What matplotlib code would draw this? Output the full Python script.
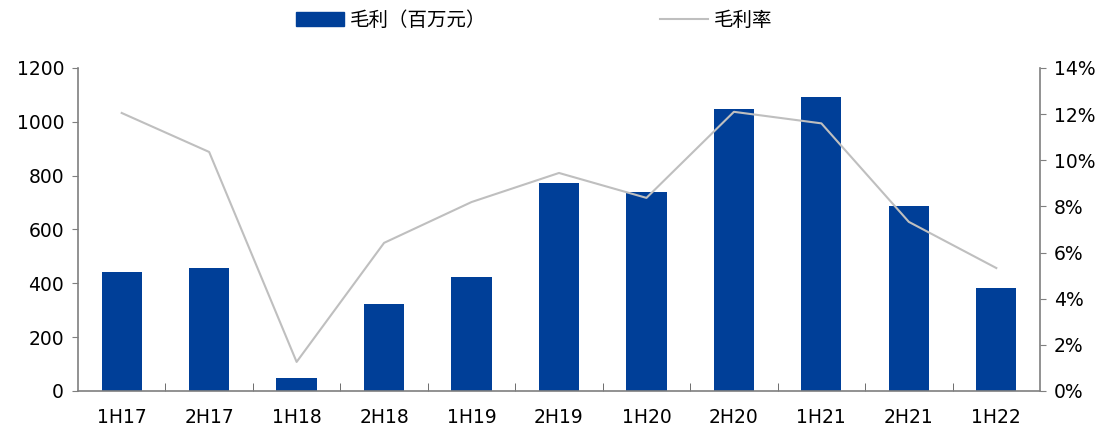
import matplotlib
matplotlib.use('Agg')
import matplotlib.pyplot as plt
from matplotlib.patches import Patch
from matplotlib.lines import Line2D
from matplotlib.ticker import FuncFormatter, FixedLocator
import numpy as np

plt.rcParams['font.family'] = ['DejaVu Sans', 'Noto Sans CJK SC']

periods = ['1H17', '2H17', '1H18', '2H18', '1H19', '2H19', '1H20', '2H20', '1H21', '2H21', '1H22']
gross_profit = [443, 457, 48, 323, 423, 773, 739, 1048, 1092, 687, 383]   # 百万元
gross_margin = [12.05, 10.36, 1.26, 6.42, 8.19, 9.45, 8.37, 12.1, 11.6, 7.33, 5.33]  # %

bar_color = '#003F98'
line_color = '#BFBFBF'
axis_color = '#7F7F7F'

fig = plt.figure(figsize=(11.09, 4.30), dpi=100)
ax = fig.add_axes([0.0703, 0.0907, 0.8675, 0.7512])
x = np.arange(len(periods))

ax.bar(x, gross_profit, width=0.46, color=bar_color, zorder=2)
ax.set_xlim(-0.5, len(periods) - 0.5)
ax.set_ylim(0, 1200)
ax.set_yticks(range(0, 1201, 200))
ax.set_xticks(x)
ax.set_xticklabels(periods)
ax.xaxis.set_minor_locator(FixedLocator(x[:-1] + 0.5))
ax.tick_params(axis='x', which='major', length=0, pad=12, labelsize=13.5)
ax.tick_params(axis='x', which='minor', direction='in', length=6, color='#555555')
ax.tick_params(axis='y', length=4, color=axis_color, labelsize=13.5, pad=6)

for side in ['top', 'right']:
    ax.spines[side].set_visible(False)
for side in ['left', 'bottom']:
    ax.spines[side].set_color(axis_color)
    ax.spines[side].set_linewidth(1.2)

ax2 = ax.twinx()
ax2.plot(x, gross_margin, color=line_color, lw=1.5, zorder=3)
ax2.set_ylim(0, 14)
ax2.set_yticks(range(0, 15, 2))
ax2.yaxis.set_major_formatter(FuncFormatter(lambda v, p: f'{v:.0f}%'))
ax2.tick_params(axis='y', length=4, color=axis_color, labelsize=13.5, pad=6)
for side in ['top', 'left', 'bottom']:
    ax2.spines[side].set_visible(False)
ax2.spines['right'].set_color(axis_color)
ax2.spines['right'].set_linewidth(1.2)

handles = [Patch(color=bar_color, label='毛利（百万元）'),
           Line2D([], [], color=line_color, lw=1.5, label='毛利率')]
fig.legend(handles=handles, loc='upper left', bbox_to_anchor=(0.251, 1.018), ncol=2,
           frameon=False, handlelength=2.5, handleheight=0.8,
           columnspacing=8.9, handletextpad=0.3,
           prop={'family': ['Noto Sans CJK SC'], 'size': 14})

fig.savefig('out.png', dpi=100)
